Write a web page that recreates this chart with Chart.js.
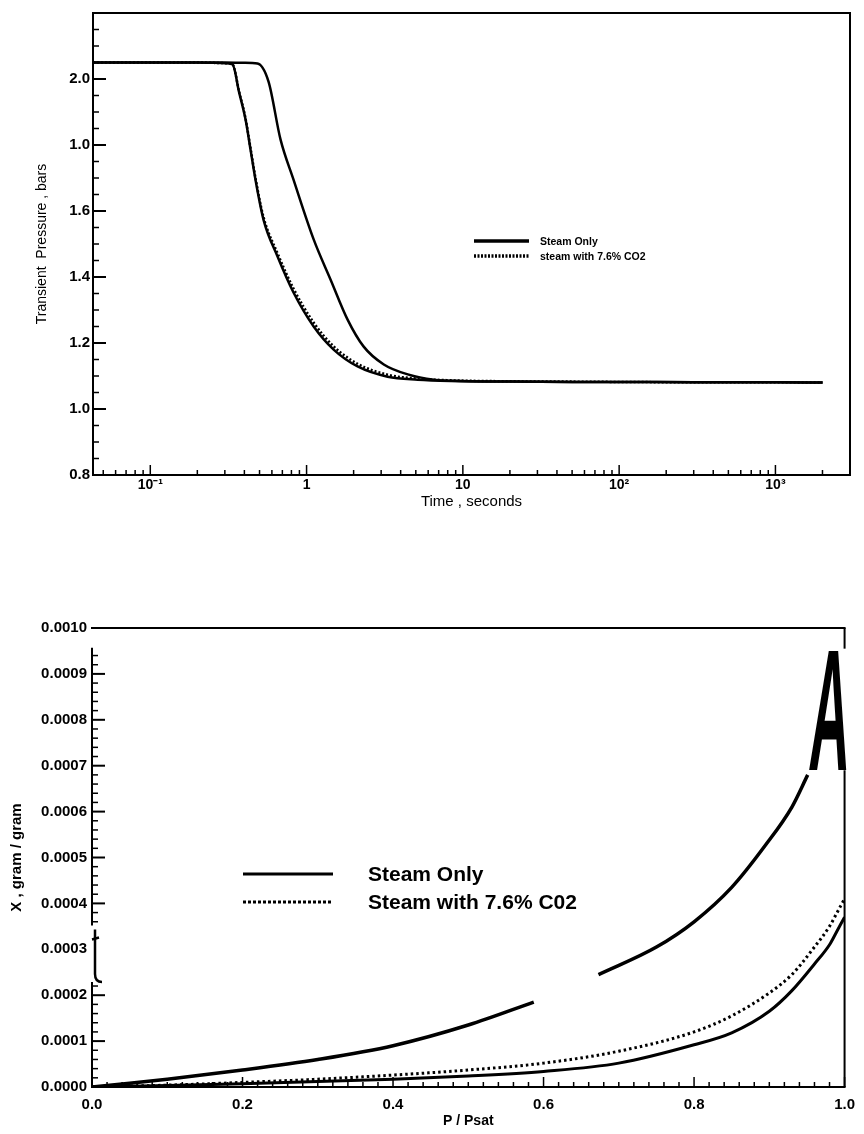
<!DOCTYPE html>
<html>
<head>
<meta charset="utf-8">
<title>Transient pressure and X vs P/Psat</title>
<script src="https://cdn.jsdelivr.net/npm/chart.js@4.4.1/dist/chart.umd.min.js"></script>
<style>
  body { margin: 0; background: #fff; }
  .page { position: relative; width: 864px; height: 1134px; overflow: hidden; background: #fff; }
  #pressureChart { position: absolute; left: 0; top: 0; }
  #moistureChart { position: absolute; left: 0; top: 590px; }
</style>
</head>
<body>
<div class="page">
  <canvas id="pressureChart" width="864" height="515"></canvas>
  <canvas id="moistureChart" width="864" height="544"></canvas>
</div>
<script>
// ---------------- top chart: transient pressure against time ----------------
const timeEarly = [0.043, 0.1, 0.2, 0.3, 0.336, 0.37, 0.407, 0.44, 0.471, 0.53, 0.652, 0.825, 1.11, 1.49, 2.12, 3.3, 5.15, 8.4, 20, 50, 100, 300, 1000, 2000];
const pressureSteamOnly = [2.05, 2.05, 2.05, 2.048, 2.044, 1.96, 1.877, 1.78, 1.695, 1.574, 1.462, 1.353, 1.25, 1.18, 1.129, 1.098, 1.089, 1.085, 1.083, 1.082, 1.082, 1.081, 1.081, 1.08];
const pressureSteamCO2 = [2.05, 2.05, 2.05, 2.048, 2.044, 1.962, 1.88, 1.785, 1.70, 1.582, 1.472, 1.365, 1.262, 1.19, 1.137, 1.104, 1.092, 1.087, 1.084, 1.083, 1.082, 1.081, 1.081, 1.08];
const timeLate = [0.043, 0.1, 0.2, 0.3, 0.4, 0.485, 0.571, 0.681, 0.825, 1.11, 1.425, 1.83, 2.32, 3.12, 4.44, 6.52, 10, 20, 50, 100, 300, 1000, 2000];
const pressureLate = [2.05, 2.05, 2.05, 2.05, 2.049, 2.047, 1.992, 1.817, 1.695, 1.514, 1.392, 1.271, 1.189, 1.135, 1.105, 1.089, 1.085, 1.083, 1.082, 1.082, 1.081, 1.081, 1.08];

const timeTickValues = [0.1, 1, 10, 100, 1000];
const timeTickLabels = ['10⁻¹', '1', '10', '10²', '10³'];
const pressureTickValues = [0.8, 1.0, 1.2, 1.4, 1.6, 1.8, 2.0, 2.2];
const pressureTickLabels = ['0.8', '1.0', '1.2', '1.4', '1.6', '1.0', '2.0', ''];

// ---------------- bottom chart: X against P/Psat ----------------
const ratioUpper = [0, 0.05, 0.1, 0.2, 0.3, 0.4, 0.5, 0.587, 0.63, 0.673, 0.75, 0.8, 0.85, 0.894, 0.93, 0.951];
const moistureUpper = [0, 0.000008, 0.000017, 0.000037, 0.00006, 0.00009, 0.000135, 0.000185, null, 0.000245, 0.000305, 0.00036, 0.000435, 0.000525, 0.00061, 0.00068];
const ratioLower = [0, 0.1, 0.2, 0.3, 0.4, 0.5, 0.6, 0.7, 0.8, 0.85, 0.9, 0.93, 0.96, 0.98, 0.99, 1.0];
const moistureSteamOnly = [0, 0.000003, 0.000007, 0.000012, 0.000017, 0.000024, 0.000034, 0.000052, 0.000092, 0.000118, 0.000165, 0.00021, 0.000268, 0.00031, 0.00034, 0.00037];
const moistureSteamCO2 = [0, 0.000004, 0.00001, 0.000017, 0.000026, 0.000037, 0.000052, 0.000078, 0.00012, 0.000155, 0.000205, 0.000245, 0.000305, 0.00035, 0.00038, 0.00041];

const ratioTickValues = [0, 0.2, 0.4, 0.6, 0.8, 1.0];
const ratioTickLabels = ['0.0', '0.2', '0.4', '0.6', '0.8', '1.0'];
const moistureTickValues = [0, 0.0001, 0.0002, 0.0003, 0.0004, 0.0005, 0.0006, 0.0007, 0.0008, 0.0009, 0.001];
const moistureTickLabels = ['0.0000', '0.0001', '0.0002', '0.0003', '0.0004', '0.0005', '0.0006', '0.0007', '0.0008', '0.0009', '0.0010'];

const FONT = '"Liberation Sans", Arial, Helvetica, sans-serif';
Chart.defaults.font.family = FONT;
Chart.defaults.color = '#000';

const toPoints = (xs, ys) => xs.map((x, i) => ({ x: x, y: ys[i] }));

function stepTicks(from, to, step) {
  const out = [];
  const n = Math.round((to - from) / step);
  for (let i = 0; i <= n; i++) out.push(+(from + i * step).toFixed(9));
  return out;
}
const minorOnly = (list, majorStep) =>
  list.filter(v => Math.abs(v / majorStep - Math.round(v / majorStep)) > 1e-6);

function logTicks(min, max) {
  const major = [], minor = [];
  for (let e = -2; e <= 4; e++) {
    for (let m = 1; m <= 9; m++) {
      const v = +(m * Math.pow(10, e)).toPrecision(6);
      if (v <= min || v >= max) continue;
      (m === 1 ? major : minor).push(v);
    }
  }
  return { major, minor };
}

const inGap = (v, gaps) => gaps.some(g => v > g[0] && v < g[1]);

// box round the plot with ticks pointing inwards (left and bottom only)
const frameTicks = {
  id: 'frameTicks',
  afterDatasetsDraw(chart, args, opts) {
    const { ctx, chartArea: a } = chart;
    const xs = chart.scales.x, ys = chart.scales.y;
    const leftGaps = opts.leftGaps || [], rightGaps = opts.rightGaps || [];
    ctx.save();
    ctx.strokeStyle = '#000';
    ctx.lineCap = 'butt';

    // vertical side with pieces missing
    const side = (px, gaps) => {
      let start = ys.min;
      const segs = [];
      gaps.slice().sort((p, q) => p[0] - q[0]).forEach(g => {
        if (g[0] > start) segs.push([start, g[0]]);
        start = Math.max(start, g[1]);
      });
      if (start < ys.max) segs.push([start, ys.max]);
      segs.forEach(s => {
        ctx.beginPath();
        ctx.moveTo(px, ys.getPixelForValue(s[0]));
        ctx.lineTo(px, ys.getPixelForValue(s[1]));
        ctx.stroke();
      });
    };
    ctx.lineWidth = opts.width;
    ctx.beginPath();
    ctx.moveTo(a.left - 1, a.top); ctx.lineTo(a.right + 1, a.top);
    ctx.moveTo(a.left - 1, a.bottom); ctx.lineTo(a.right + 1, a.bottom);
    ctx.stroke();
    side(a.left, leftGaps);
    side(a.right, rightGaps);

    ctx.lineWidth = 1.5;
    const xTick = (v, len) => {
      const px = xs.getPixelForValue(v);
      ctx.beginPath(); ctx.moveTo(px, a.bottom); ctx.lineTo(px, a.bottom - len); ctx.stroke();
    };
    const yTick = (v, len) => {
      if (inGap(v, leftGaps)) return;
      const py = ys.getPixelForValue(v);
      ctx.beginPath(); ctx.moveTo(a.left, py); ctx.lineTo(a.left + len, py); ctx.stroke();
    };
    opts.xMinor.forEach(v => xTick(v, opts.xMinorLen));
    opts.xMajor.forEach(v => xTick(v, opts.xMajorLen));
    opts.yMinor.forEach(v => yTick(v, opts.yMinorLen));
    ctx.lineWidth = 2;
    opts.yMajor.forEach(v => yTick(v, opts.yMajorLen));
    ctx.restore();
  }
};

// legend drawn inside the plot, one row per labelled dataset
const lineLegend = {
  id: 'lineLegend',
  afterDraw(chart, args, opts) {
    const ctx = chart.ctx;
    ctx.save();
    ctx.font = opts.font;
    ctx.fillStyle = '#000';
    ctx.strokeStyle = '#000';
    ctx.textBaseline = 'middle';
    chart.data.datasets.filter(d => d.label).forEach((d, i) => {
      const yy = opts.y + i * opts.rowGap;
      ctx.lineWidth = opts.sampleWidth;
      ctx.setLineDash(d.borderDash ? opts.sampleDash : []);
      ctx.beginPath(); ctx.moveTo(opts.x1, yy); ctx.lineTo(opts.x2, yy); ctx.stroke();
      ctx.setLineDash([]);
      ctx.fillText(d.label, opts.textX, yy + 1);
    });
    ctx.restore();
  }
};

// marks left by the scan of the bottom figure: bracket on the axis and the big letter
const scanMarks = {
  id: 'scanMarks',
  afterDraw(chart, args, opts) {
    const { ctx, chartArea: a } = chart;
    const xs = chart.scales.x, ys = chart.scales.y;
    ctx.save();
    ctx.strokeStyle = '#000';
    ctx.fillStyle = '#000';
    // bracket in the broken left axis
    const bx = a.left + 3;
    const yTop = ys.getPixelForValue(opts.bracket[1]);
    const yBot = ys.getPixelForValue(opts.bracket[0]);
    ctx.lineWidth = 2.5;
    ctx.beginPath();
    ctx.moveTo(bx, yTop);
    ctx.lineTo(bx, yBot - 8);
    ctx.quadraticCurveTo(bx, yBot, bx + 7, yBot);
    ctx.stroke();
    ctx.beginPath();
    ctx.moveTo(bx - 3, yTop + 10); ctx.lineTo(bx + 4, yTop + 8);
    ctx.stroke();
    // the big "A", leaning a little to the right
    const l = opts.letter;
    const x0 = xs.getPixelForValue(l.from[0]), x1 = xs.getPixelForValue(l.to[0]);
    const y0 = ys.getPixelForValue(l.from[1]), y1 = ys.getPixelForValue(l.to[1]);
    const h = y0 - y1;
    ctx.font = 'bold 100px ' + FONT;
    const w = ctx.measureText(l.text).width;
    ctx.translate(x0, y0);
    ctx.transform(1, 0, -l.lean / h, 1, 0, 0);
    ctx.scale((x1 - x0) / w, h / 71.6);
    ctx.textBaseline = 'alphabetic';
    ctx.fillText(l.text, 0, 0);
    ctx.restore();
  }
};

const timeTicks = logTicks(0.043, 3000);

new Chart(document.getElementById('pressureChart'), {
  type: 'line',
  data: {
    datasets: [
      { label: 'Steam Only', data: toPoints(timeEarly, pressureSteamOnly), borderColor: '#000', borderWidth: 2.5, pointRadius: 0, cubicInterpolationMode: 'monotone' },
      { label: 'steam with 7.6% CO2', data: toPoints(timeEarly, pressureSteamCO2), borderColor: '#000', borderWidth: 2.5, borderDash: [2, 2], pointRadius: 0, cubicInterpolationMode: 'monotone' },
      { label: '', data: toPoints(timeLate, pressureLate), borderColor: '#000', borderWidth: 2.5, pointRadius: 0, cubicInterpolationMode: 'monotone' }
    ]
  },
  options: {
    responsive: false,
    animation: false,
    events: [],
    layout: { padding: { top: 13, right: 14, left: 0, bottom: 0 } },
    plugins: {
      legend: { display: false },
      tooltip: { enabled: false },
      lineLegend: { x1: 474, x2: 529, textX: 540, y: 241, rowGap: 15, sampleWidth: 3.5, sampleDash: [2, 1.5], font: 'bold 10.5px ' + FONT },
      frameTicks: {
        width: 2,
        xMajor: timeTicks.major, xMinor: timeTicks.minor, xMajorLen: 10, xMinorLen: 5,
        yMajor: stepTicks(0.8, 2.2, 0.2), yMinor: minorOnly(stepTicks(0.8, 2.2, 0.05), 0.2), yMajorLen: 13, yMinorLen: 6
      }
    },
    scales: {
      x: {
        type: 'logarithmic',
        min: 0.043,
        max: 3000,
        afterBuildTicks: s => { s.ticks = timeTickValues.map(v => ({ value: v })); },
        afterFit: s => { s.height = 40; },
        grid: { display: false, drawTicks: false },
        border: { display: false },
        ticks: { autoSkip: false, maxRotation: 0, padding: 2, font: { size: 14, weight: 'bold' }, callback: (v, i) => timeTickLabels[i] },
        title: { display: true, text: 'Time , seconds', font: { size: 15 }, padding: { top: 0, bottom: 4 } }
      },
      y: {
        min: 0.8,
        max: 2.2,
        afterBuildTicks: s => { s.ticks = pressureTickValues.map(v => ({ value: v })); },
        afterFit: s => { s.width = 93; },
        grid: { display: false, drawTicks: false },
        border: { display: false },
        ticks: { padding: 3, font: { size: 15, weight: 'bold' }, callback: (v, i) => pressureTickLabels[i] },
        title: { display: true, text: 'Transient  Pressure , bars', font: { size: 14 }, padding: { top: 34, bottom: 0 } }
      }
    }
  },
  plugins: [frameTicks, lineLegend]
});

new Chart(document.getElementById('moistureChart'), {
  type: 'line',
  data: {
    datasets: [
      { label: 'Steam Only', data: toPoints(ratioLower, moistureSteamOnly), borderColor: '#000', borderWidth: 3, pointRadius: 0, cubicInterpolationMode: 'monotone' },
      { label: 'Steam with 7.6% C02', data: toPoints(ratioLower, moistureSteamCO2), borderColor: '#000', borderWidth: 3, borderDash: [2.5, 3], pointRadius: 0, cubicInterpolationMode: 'monotone' },
      { label: '', data: toPoints(ratioUpper, moistureUpper), borderColor: '#000', borderWidth: 3.5, pointRadius: 0, spanGaps: false, cubicInterpolationMode: 'monotone' }
    ]
  },
  options: {
    responsive: false,
    animation: false,
    events: [],
    layout: { padding: { top: 38, right: 13, left: 0, bottom: 0 } },
    plugins: {
      legend: { display: false },
      tooltip: { enabled: false },
      lineLegend: { x1: 243, x2: 333, textX: 368, y: 284, rowGap: 28, sampleWidth: 3, sampleDash: [3, 2], font: 'bold 21px ' + FONT },
      frameTicks: {
        width: 2,
        xMajor: stepTicks(0, 1, 0.2), xMinor: minorOnly(stepTicks(0, 1, 0.02), 0.2), xMajorLen: 10, xMinorLen: 5,
        yMajor: stepTicks(0, 0.001, 0.0001), yMinor: minorOnly(stepTicks(0, 0.001, 0.00002), 0.0001), yMajorLen: 13, yMinorLen: 6,
        leftGaps: [[0.000229, 0.000352], [0.000957, 0.0011]],
        rightGaps: [[0.00069, 0.000955]]
      },
      scanMarks: {
        bracket: [0.000229, 0.000343],
        letter: { text: 'A', from: [0.951, 0.00069], to: [1.004, 0.00096], lean: 6 }
      }
    },
    scales: {
      x: {
        type: 'linear',
        min: 0,
        max: 1,
        afterBuildTicks: s => { s.ticks = ratioTickValues.map(v => ({ value: v })); },
        afterFit: s => { s.height = 47; },
        grid: { display: false, drawTicks: false },
        border: { display: false },
        ticks: { autoSkip: false, maxRotation: 0, padding: 9, font: { size: 15, weight: 'bold' }, callback: (v, i) => ratioTickLabels[i] },
        title: { display: true, text: 'P / Psat', font: { size: 14, weight: 'bold' }, padding: { top: 0, bottom: 4 } }
      },
      y: {
        min: 0,
        max: 0.001,
        afterBuildTicks: s => { s.ticks = moistureTickValues.map(v => ({ value: v })); },
        afterFit: s => { s.width = 92; },
        grid: { display: false, drawTicks: false },
        border: { display: false },
        ticks: { padding: 5, font: { size: 15, weight: 'bold' }, callback: (v, i) => moistureTickLabels[i] },
        title: { display: true, text: 'X , gram / gram', font: { size: 15, weight: 'bold' }, padding: { top: 8, bottom: 0 } }
      }
    }
  },
  plugins: [frameTicks, lineLegend, scanMarks]
});
</script>
</body>
</html>
